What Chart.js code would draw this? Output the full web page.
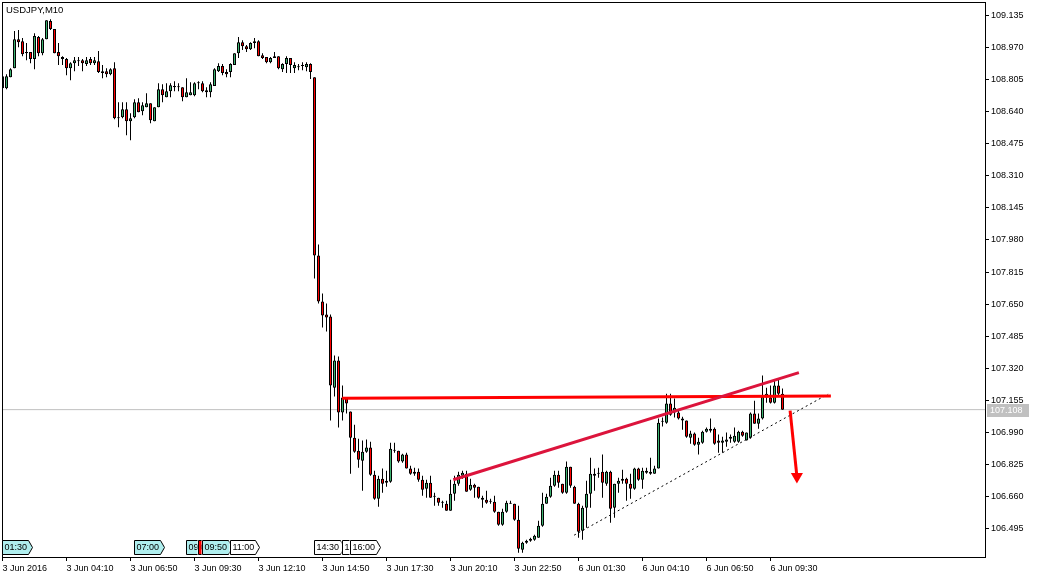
<!DOCTYPE html>
<html>
<head>
<meta charset="utf-8">
<title>USDJPY,M10</title>
<script src="https://cdn.jsdelivr.net/npm/chart.js@4.4.1/dist/chart.umd.min.js"></script>
<style>
  html, body { margin: 0; padding: 0; background: #ffffff; }
  #wrap { width: 1039px; height: 579px; }
</style>
</head>
<body>
<div id="wrap"><canvas id="chart" width="1039" height="579"></canvas></div>
<script>
// Symbol and timeframe shown in the top left corner
const SYMBOL = 'USDJPY,M10';

// OHLC of every 10 minute bar, bar 0 = 3 Jun 01:30
const opens = [
  108.759, 108.759, 108.816, 108.862, 109.011, 109.001, 108.945, 108.945, 108.909, 109.022,
  108.939, 109.011, 109.104, 109.063, 108.945, 108.919, 108.909, 108.862, 108.888, 108.898,
  108.903, 108.883, 108.909, 108.888, 108.898, 108.847, 108.847, 108.831, 108.862, 108.610,
  108.610, 108.651, 108.590, 108.610, 108.687, 108.641, 108.662, 108.682, 108.590, 108.662,
  108.754, 108.713, 108.744, 108.764, 108.764, 108.764, 108.713, 108.723, 108.723, 108.785,
  108.785, 108.749, 108.739, 108.770, 108.847, 108.873, 108.842, 108.842, 108.878, 108.939,
  108.996, 108.975, 108.960, 108.991, 109.001, 108.929, 108.919, 108.893, 108.914, 108.924,
  108.857, 108.883, 108.914, 108.862, 108.867, 108.873, 108.867, 108.883, 108.816, 107.900,
  107.664, 107.597, 107.587, 107.221, 107.360, 107.093, 107.165, 107.098, 106.964, 106.897,
  106.846, 106.892, 106.913, 106.774, 106.650, 106.753, 106.733, 106.738, 106.902, 106.897,
  106.841, 106.877, 106.805, 106.779, 106.789, 106.748, 106.702, 106.733, 106.661, 106.655,
  106.630, 106.625, 106.589, 106.676, 106.727, 106.769, 106.779, 106.697, 106.722, 106.712,
  106.655, 106.645, 106.635, 106.635, 106.583, 106.517, 106.583, 106.630, 106.625, 106.542,
  106.388, 106.424, 106.434, 106.439, 106.450, 106.511, 106.625, 106.661, 106.717, 106.774,
  106.727, 106.681, 106.815, 106.712, 106.625, 106.486, 106.604, 106.676, 106.769, 106.779,
  106.789, 106.727, 106.789, 106.604, 106.727, 106.743, 106.753, 106.727, 106.702, 106.805,
  106.748, 106.794, 106.779, 106.779, 106.805, 107.046, 107.041, 107.139, 107.093, 107.093,
  107.052, 107.052, 106.964, 106.985, 106.928, 106.938, 106.995, 107.010, 107.010, 106.949,
  106.938, 106.943, 106.959, 106.943, 106.943, 106.995, 106.949, 106.964, 107.088, 107.036,
  107.062, 107.170, 107.170, 107.144, 107.232, 107.190
];
const highs = [
  108.831, 108.831, 108.862, 109.053, 109.058, 109.017, 108.991, 108.945, 109.042, 109.027,
  109.017, 109.109, 109.114, 109.063, 108.991, 108.924, 108.914, 108.893, 108.919, 108.919,
  108.909, 108.919, 108.919, 108.919, 108.950, 108.878, 108.862, 108.862, 108.893, 108.687,
  108.687, 108.687, 108.631, 108.703, 108.708, 108.687, 108.734, 108.682, 108.662, 108.785,
  108.780, 108.785, 108.785, 108.795, 108.785, 108.764, 108.811, 108.790, 108.790, 108.795,
  108.795, 108.764, 108.790, 108.862, 108.888, 108.883, 108.857, 108.888, 108.939, 109.022,
  109.006, 108.981, 108.996, 109.017, 109.006, 108.939, 108.919, 108.919, 108.945, 108.924,
  108.888, 108.924, 108.914, 108.893, 108.883, 108.893, 108.893, 108.888, 108.816, 107.957,
  107.705, 107.653, 107.597, 107.386, 107.381, 107.232, 107.165, 107.098, 107.031, 106.959,
  106.949, 106.954, 106.943, 106.794, 106.769, 106.805, 106.794, 106.938, 106.938, 106.897,
  106.882, 106.887, 106.820, 106.810, 106.805, 106.769, 106.748, 106.769, 106.681, 106.655,
  106.640, 106.640, 106.748, 106.769, 106.789, 106.794, 106.794, 106.753, 106.727, 106.712,
  106.666, 106.691, 106.650, 106.666, 106.583, 106.599, 106.640, 106.640, 106.625, 106.614,
  106.429, 106.439, 106.450, 106.465, 106.537, 106.681, 106.676, 106.758, 106.794, 106.794,
  106.727, 106.841, 106.815, 106.717, 106.630, 106.614, 106.743, 106.861, 106.805, 106.810,
  106.877, 106.794, 106.794, 106.727, 106.758, 106.799, 106.758, 106.779, 106.810, 106.810,
  106.810, 106.810, 106.861, 106.820, 107.062, 107.067, 107.190, 107.190, 107.165, 107.103,
  107.072, 107.052, 107.000, 106.990, 106.964, 107.000, 107.016, 107.062, 107.016, 106.980,
  106.969, 106.990, 106.980, 107.016, 107.000, 107.000, 106.990, 107.093, 107.154, 107.088,
  107.283, 107.221, 107.232, 107.257, 107.268, 107.216
];
const lows = [
  108.754, 108.754, 108.816, 108.862, 108.970, 108.924, 108.903, 108.888, 108.857, 108.924,
  108.929, 109.011, 109.058, 108.939, 108.878, 108.878, 108.826, 108.800, 108.847, 108.873,
  108.847, 108.873, 108.878, 108.878, 108.837, 108.811, 108.816, 108.826, 108.600, 108.559,
  108.605, 108.518, 108.492, 108.605, 108.636, 108.620, 108.662, 108.579, 108.590, 108.662,
  108.687, 108.713, 108.713, 108.744, 108.744, 108.692, 108.713, 108.723, 108.718, 108.754,
  108.739, 108.713, 108.713, 108.770, 108.842, 108.826, 108.816, 108.816, 108.878, 108.914,
  108.955, 108.945, 108.955, 108.965, 108.924, 108.909, 108.888, 108.888, 108.914, 108.857,
  108.842, 108.837, 108.837, 108.837, 108.852, 108.852, 108.847, 108.806, 107.782, 107.653,
  107.530, 107.509, 107.052, 107.175, 107.016, 107.052, 107.088, 106.779, 106.887, 106.810,
  106.691, 106.887, 106.769, 106.645, 106.609, 106.681, 106.712, 106.733, 106.887, 106.835,
  106.835, 106.805, 106.774, 106.769, 106.738, 106.666, 106.655, 106.655, 106.614, 106.614,
  106.604, 106.589, 106.589, 106.640, 106.717, 106.753, 106.686, 106.691, 106.655, 106.650,
  106.604, 106.625, 106.625, 106.578, 106.511, 106.511, 106.578, 106.625, 106.537, 106.373,
  106.373, 106.419, 106.429, 106.434, 106.450, 106.506, 106.625, 106.655, 106.712, 106.707,
  106.676, 106.676, 106.707, 106.625, 106.450, 106.439, 106.501, 106.604, 106.691, 106.758,
  106.655, 106.717, 106.527, 106.553, 106.681, 106.727, 106.640, 106.650, 106.697, 106.743,
  106.702, 106.779, 106.774, 106.779, 106.805, 107.021, 107.036, 107.077, 107.067, 107.057,
  107.005, 106.964, 106.933, 106.923, 106.877, 106.933, 106.990, 106.990, 106.928, 106.887,
  106.887, 106.918, 106.938, 106.938, 106.938, 106.969, 106.949, 106.959, 107.036, 107.010,
  107.057, 107.144, 107.139, 107.139, 107.180, 107.108
];
const closes = [
  108.821, 108.821, 108.857, 109.011, 108.996, 108.934, 108.939, 108.909, 109.027, 108.939,
  109.011, 109.109, 109.063, 108.939, 108.924, 108.909, 108.862, 108.888, 108.903, 108.898,
  108.888, 108.903, 108.888, 108.903, 108.842, 108.837, 108.831, 108.857, 108.605, 108.605,
  108.651, 108.590, 108.605, 108.687, 108.636, 108.672, 108.682, 108.595, 108.662, 108.754,
  108.723, 108.744, 108.775, 108.770, 108.764, 108.713, 108.739, 108.739, 108.785, 108.785,
  108.744, 108.739, 108.780, 108.857, 108.873, 108.837, 108.831, 108.883, 108.939, 108.996,
  108.975, 108.960, 108.991, 109.001, 108.924, 108.914, 108.893, 108.914, 108.924, 108.862,
  108.883, 108.914, 108.878, 108.878, 108.867, 108.873, 108.883, 108.842, 107.900, 107.664,
  107.592, 107.581, 107.232, 107.360, 107.093, 107.170, 107.139, 106.964, 106.892, 106.851,
  106.892, 106.913, 106.774, 106.650, 106.753, 106.727, 106.743, 106.907, 106.897, 106.841,
  106.877, 106.805, 106.779, 106.789, 106.748, 106.697, 106.733, 106.655, 106.661, 106.630,
  106.630, 106.589, 106.676, 106.727, 106.774, 106.784, 106.686, 106.722, 106.707, 106.655,
  106.645, 106.630, 106.635, 106.583, 106.517, 106.583, 106.630, 106.625, 106.542, 106.393,
  106.424, 106.434, 106.445, 106.460, 106.511, 106.625, 106.661, 106.717, 106.774, 106.733,
  106.681, 106.815, 106.717, 106.625, 106.481, 106.604, 106.676, 106.779, 106.779, 106.784,
  106.733, 106.789, 106.599, 106.727, 106.743, 106.753, 106.727, 106.702, 106.805, 106.748,
  106.794, 106.784, 106.789, 106.805, 107.041, 107.046, 107.139, 107.082, 107.118, 107.062,
  107.062, 106.969, 106.985, 106.928, 106.943, 106.995, 107.010, 107.000, 106.933, 106.938,
  106.949, 106.954, 106.969, 106.974, 106.995, 106.974, 106.990, 107.088, 107.036, 107.062,
  107.175, 107.190, 107.144, 107.232, 107.190, 107.108
];

// Current bid shown as the grey line and price box
const bidPrice = 107.108;

// Time axis: bar index of each tick and its label
const xTickBars = [0, 16, 32, 48, 64, 80, 96, 112, 128, 144, 160, 176, 192];
const xTickLabels = [
  '3 Jun 2016', '3 Jun 04:10', '3 Jun 06:50', '3 Jun 09:30', '3 Jun 12:10',
  '3 Jun 14:50', '3 Jun 17:30', '3 Jun 20:10', '3 Jun 22:50', '6 Jun 01:30',
  '6 Jun 04:10', '6 Jun 06:50', '6 Jun 09:30'
];

// Price axis ticks
const yTickValues = [
  106.495, 106.660, 106.825, 106.990, 107.155, 107.320, 107.485, 107.650, 107.815,
  107.980, 108.145, 108.310, 108.475, 108.640, 108.805, 108.970, 109.135
];
const yTickLabels = [
  '106.495', '106.660', '106.825', '106.990', '107.155', '107.320', '107.485', '107.650', '107.815',
  '107.980', '108.145', '108.310', '108.475', '108.640', '108.805', '108.970', '109.135'
];

// News event markers along the bottom of the chart
const eventBars = [0, 33, 46, 49, 50, 57, 78, 85, 87];
const eventTexts = ['01:30', '07:00', '09:10', '09:40', '09:50', '11:00', '14:30', '15:40', '16:00'];
const eventKinds = ['past', 'past', 'past', 'alert', 'past', 'next', 'next', 'next', 'next'];

// Drawn objects, as (bar index, price) pairs
const resistanceLine = [{ x: 84.9, y: 107.167 }, { x: 207.1, y: 107.178 }];
const risingLine = [{ x: 112.7, y: 106.748 }, { x: 199.1, y: 107.298 }];
const supportLine = [{ x: 142.9, y: 106.463 }, { x: 206.4, y: 107.188 }];
const arrowLine = [{ x: 196.9, y: 107.103 }, { x: 198.6, y: 106.765 }];

(function () {
  const FONT = '"Liberation Sans", Arial, sans-serif';
  const BULL = '#3cb371';
  const BEAR = '#ff0000';
  const X_MIN = 0.125;
  const X_MAX = 245.625;
  const Y_MIN = 106.351;
  const Y_MAX = 109.197;
  const EVENT_FILL = { past: '#afeeee', alert: '#ff0000', next: '#ffffff' };

  /**
   * Drop the label overhang padding Chart.js adds, so the plot keeps a fixed box
   */
  function noPadding(scale) {
    scale.paddingLeft = 0;
    scale.paddingRight = 0;
    scale.paddingTop = 0;
    scale.paddingBottom = 0;
  }

  /**
   * Frame round the plot, symbol name and the bid price box
   */
  const framePlugin = {
    id: 'frame',
    afterDraw(chart) {
      const ctx = chart.ctx;
      const a = chart.chartArea;
      ctx.save();
      ctx.strokeStyle = '#000';
      ctx.lineWidth = 1;
      ctx.strokeRect(a.left - 0.5, a.top - 0.5, a.right - a.left + 1, a.bottom - a.top + 1);

      // symbol
      ctx.fillStyle = '#000';
      ctx.font = '9.5px ' + FONT;
      ctx.textBaseline = 'alphabetic';
      ctx.textAlign = 'left';
      ctx.fillText(SYMBOL, a.left + 3, a.top + 10);

      // bid box on the price axis
      const y = Math.round(chart.scales.y.getPixelForValue(bidPrice));
      ctx.fillStyle = '#c0c0c0';
      ctx.fillRect(a.right + 2, y - 6, 42, 13);
      ctx.fillStyle = '#ffffff';
      ctx.font = '9px ' + FONT;
      ctx.textBaseline = 'middle';
      ctx.fillText(bidPrice.toFixed(3), a.right + 5, y + 0.5);
      ctx.restore();
    }
  };

  /**
   * Event labels: small arrow shaped boxes sitting on the bottom edge
   */
  const eventPlugin = {
    id: 'events',
    afterDraw(chart) {
      const ctx = chart.ctx;
      const xs = chart.scales.x;
      const bottom = chart.chartArea.bottom - 2.5;
      const top = bottom - 14;
      const mid = (top + bottom) / 2;
      ctx.save();
      ctx.font = '9px ' + FONT;
      ctx.textBaseline = 'middle';
      ctx.textAlign = 'left';
      eventBars.forEach((bar, i) => {
        const left = Math.floor(xs.getPixelForValue(bar)) + 0.5;
        const w = Math.round(ctx.measureText(eventTexts[i]).width + 3);
        const next = i < eventBars.length - 1
          ? Math.floor(xs.getPixelForValue(eventBars[i + 1])) : left + 100;
        ctx.save();
        ctx.beginPath();
        ctx.rect(left - 1, top - 2, next - left + 0.5, bottom - top + 4);
        ctx.clip();
        ctx.beginPath();
        ctx.moveTo(left, top);
        ctx.lineTo(left + w, top);
        ctx.lineTo(left + w + 4, mid);
        ctx.lineTo(left + w, bottom);
        ctx.lineTo(left, bottom);
        ctx.closePath();
        ctx.fillStyle = EVENT_FILL[eventKinds[i]];
        ctx.fill();
        ctx.strokeStyle = '#000';
        ctx.lineWidth = 1;
        ctx.stroke();
        ctx.fillStyle = '#000';
        ctx.fillText(eventTexts[i], left + 2, mid + 0.5);
        ctx.restore();
      });
      ctx.restore();
    }
  };

  /**
   * Build the candle and drawing datasets and create the chart
   */
  function renderChart() {
    const wicks = [];
    const bodies = [];
    const bodyColors = [];
    opens.forEach((open, i) => {
      wicks.push({ x: i, y: [lows[i], highs[i]] });
      bodies.push({ x: i, y: [open, closes[i]] });
      bodyColors.push(closes[i] >= open ? BULL : BEAR);
    });

    const lineBase = {
      type: 'line',
      pointRadius: 0,
      fill: false,
      tension: 0
    };

    new Chart(document.getElementById('chart').getContext('2d'), {
      type: 'bar',
      data: {
        datasets: [
          Object.assign({}, lineBase, {
            data: [{ x: X_MIN, y: bidPrice }, { x: X_MAX, y: bidPrice }],
            borderColor: '#c0c0c0',
            borderWidth: 1,
            order: 10
          }),
          {
            data: wicks,
            backgroundColor: '#000',
            barThickness: 1,
            grouped: false,
            inflateAmount: 0,
            order: 9
          },
          {
            data: bodies,
            backgroundColor: bodyColors,
            borderColor: '#000',
            borderWidth: 1,
            borderSkipped: false,
            barThickness: 3,
            minBarLength: 1,
            grouped: false,
            inflateAmount: 0,
            order: 8
          },
          Object.assign({}, lineBase, {
            data: supportLine,
            borderColor: '#000',
            borderWidth: 1,
            borderDash: [2, 3],
            order: 7
          }),
          Object.assign({}, lineBase, {
            data: resistanceLine,
            borderColor: '#ff0000',
            borderWidth: 3,
            order: 6
          }),
          Object.assign({}, lineBase, {
            data: risingLine,
            borderColor: '#dc143c',
            borderWidth: 3,
            order: 5
          }),
          Object.assign({}, lineBase, {
            data: arrowLine,
            borderColor: '#ff0000',
            borderWidth: 3,
            pointRadius: [0, 7],
            pointStyle: 'triangle',
            pointRotation: 180,
            pointBackgroundColor: '#ff0000',
            pointBorderColor: '#ff0000',
            pointBorderWidth: 0,
            order: 4
          })
        ]
      },
      options: {
        responsive: false,
        devicePixelRatio: 1,
        animation: false,
        layout: {
          autoPadding: false,
          padding: { left: 3, top: 3, right: 0, bottom: 0 }
        },
        plugins: {
          legend: { display: false },
          tooltip: { enabled: false }
        },
        scales: {
          x: {
            type: 'linear',
            min: X_MIN,
            max: X_MAX,
            offset: false,
            afterFit(scale) {
              scale.height = 22;
              noPadding(scale);
            },
            afterBuildTicks(scale) {
              scale.ticks = xTickBars.map(v => ({ value: v }));
            },
            ticks: {
              autoSkip: false,
              maxRotation: 0,
              align: 'start',
              padding: 2,
              color: '#000',
              font: { family: FONT, size: 9 },
              callback: (value, index) => xTickLabels[index]
            },
            grid: {
              offset: false,
              drawOnChartArea: false,
              drawTicks: true,
              tickLength: 4,
              color: '#000'
            },
            border: { display: false }
          },
          y: {
            position: 'right',
            min: Y_MIN,
            max: Y_MAX,
            afterFit(scale) {
              scale.width = 54;
              noPadding(scale);
            },
            afterBuildTicks(scale) {
              scale.ticks = yTickValues.map(v => ({ value: v }));
            },
            ticks: {
              padding: 2,
              color: '#000',
              font: { family: FONT, size: 9 },
              callback: (value, index) => yTickLabels[index]
            },
            grid: {
              drawOnChartArea: false,
              drawTicks: true,
              tickLength: 4,
              color: '#000'
            },
            border: { display: false }
          }
        }
      },
      plugins: [framePlugin, eventPlugin]
    });
  }

  renderChart();
})();
</script>
</body>
</html>
